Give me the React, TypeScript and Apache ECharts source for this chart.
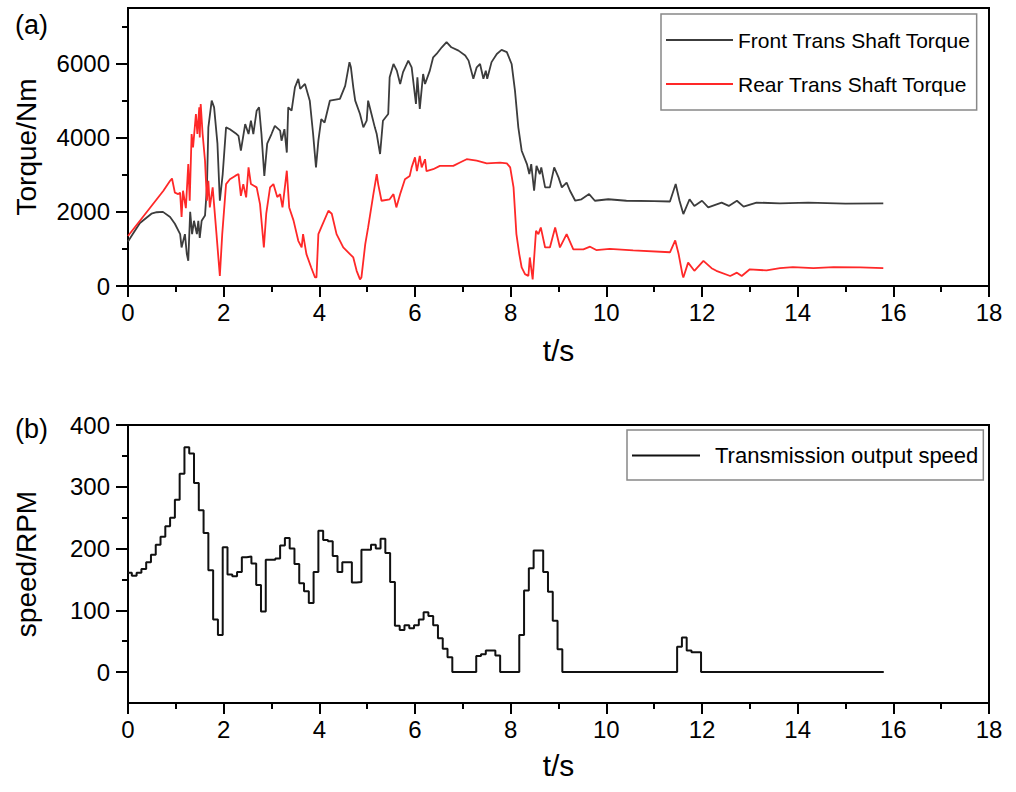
import React, { useEffect, useRef } from "react";
import * as echarts from "echarts";

// ---------- data ----------
const torqueLabelValues = [0, 2000, 4000, 6000];
const torqueMinorTicks = [1000, 3000, 5000, 7000];
const speedLabelValues = [0, 100, 200, 300, 400];
const speedMinorTicks = [50, 150, 250, 350];

// [time s, torque Nm]
const frontTorque: [number, number][] = [
  [0, 1200], [0.1, 1400], [0.25, 1700], [0.49, 1950], [0.6, 1990], [0.73, 2000], [0.88, 1860],
  [0.98, 1680], [1.09, 1400], [1.12, 1040], [1.19, 1400], [1.23, 860], [1.26, 680], [1.3, 2000],
  [1.34, 1400], [1.38, 1760], [1.44, 1400], [1.47, 1760], [1.5, 1300], [1.54, 1760], [1.61, 1900],
  [1.65, 2660], [1.68, 4280], [1.75, 5000], [1.8, 4820], [1.87, 3840], [1.92, 2300], [1.98, 3020],
  [2.05, 4280], [2.13, 4230], [2.27, 4100], [2.31, 4050], [2.36, 3650], [2.45, 4370], [2.52, 4100],
  [2.57, 4460], [2.62, 4100], [2.69, 4730], [2.74, 4820], [2.79, 4100], [2.85, 2970], [2.91, 3840],
  [3.0, 4100], [3.07, 4320], [3.18, 4190], [3.21, 3920], [3.27, 4230], [3.32, 3600], [3.35, 4820],
  [3.42, 4730], [3.49, 5360], [3.56, 5590], [3.6, 5320], [3.7, 5450], [3.8, 5000], [3.87, 4100],
  [3.93, 3200], [3.98, 3920], [4.04, 4500], [4.11, 4410], [4.22, 5000], [4.43, 5050], [4.54, 5400],
  [4.63, 6040], [4.66, 5900], [4.71, 5360], [4.75, 5000], [4.85, 4640], [4.92, 4280], [4.99, 4460],
  [5.02, 5000], [5.09, 4640], [5.16, 4280], [5.2, 4100], [5.27, 3560], [5.33, 4460], [5.44, 4640],
  [5.47, 5630], [5.55, 5990], [5.62, 5810], [5.69, 5450], [5.75, 5770], [5.86, 6080], [5.93, 5900],
  [6.02, 4910], [6.05, 5630], [6.1, 4780], [6.17, 5720], [6.21, 5450], [6.31, 5810], [6.38, 6170],
  [6.45, 6260], [6.56, 6440], [6.66, 6580], [6.76, 6440], [6.91, 6350], [7.05, 6220], [7.12, 6080],
  [7.22, 5590], [7.29, 5900], [7.36, 5990], [7.43, 5590], [7.48, 5810], [7.51, 5590], [7.6, 6040],
  [7.71, 6260], [7.81, 6370], [7.92, 6310], [8.02, 5990], [8.09, 5270], [8.16, 4280], [8.23, 3650],
  [8.34, 3290], [8.39, 3020], [8.43, 3290], [8.49, 2570], [8.54, 3240], [8.61, 3020], [8.64, 3200],
  [8.72, 2660], [8.82, 2660], [8.91, 3200], [9.0, 2930], [9.07, 2660], [9.17, 2790], [9.24, 2570],
  [9.35, 2300], [9.48, 2340], [9.64, 2480], [9.76, 2300], [10.04, 2340], [10.42, 2300], [11.0, 2290],
  [11.33, 2280], [11.45, 2750], [11.53, 2300], [11.61, 1940], [11.74, 2340], [11.84, 2160], [12.0, 2300],
  [12.13, 2120], [12.41, 2250], [12.56, 2160], [12.73, 2300], [12.87, 2140], [13.14, 2250], [13.63, 2230],
  [14.22, 2250], [15.0, 2220], [15.79, 2230],
];

const rearTorque: [number, number][] = [
  [0, 1350], [0.74, 2570], [0.88, 2840], [0.92, 2900], [0.98, 2520], [1.05, 2480], [1.09, 2520],
  [1.12, 1860], [1.15, 2570], [1.21, 2100], [1.26, 3290], [1.29, 2300], [1.33, 4100], [1.36, 3740],
  [1.42, 4640], [1.45, 4100], [1.49, 4820], [1.5, 4010], [1.52, 4910], [1.56, 4100], [1.61, 3380],
  [1.65, 2300], [1.68, 2840], [1.71, 2120], [1.77, 2660], [1.85, 1400], [1.92, 270], [1.97, 1400],
  [2.05, 2750], [2.13, 2880], [2.24, 2970], [2.31, 3020], [2.36, 2430], [2.41, 2750], [2.47, 2390],
  [2.52, 3200], [2.57, 2750], [2.69, 2660], [2.76, 2210], [2.84, 1040], [2.89, 1950], [2.97, 2660],
  [3.04, 2750], [3.12, 2400], [3.18, 2480], [3.23, 2120], [3.32, 3110], [3.37, 2120], [3.46, 1770],
  [3.56, 1220], [3.63, 1040], [3.66, 1400], [3.73, 860], [3.83, 500], [3.91, 230], [3.94, 230],
  [3.98, 1400], [4.04, 1580], [4.19, 2030], [4.26, 1950], [4.36, 1400], [4.5, 1040], [4.64, 860],
  [4.71, 770], [4.78, 410], [4.85, 180], [4.88, 230], [4.96, 1130], [5.02, 1580], [5.13, 2480],
  [5.2, 3020], [5.23, 2750], [5.3, 2300], [5.47, 2340], [5.55, 2480], [5.58, 2300], [5.61, 2120],
  [5.69, 2480], [5.79, 2880], [5.89, 2970], [5.93, 3200], [6.0, 3470], [6.04, 3100], [6.1, 3510],
  [6.14, 3200], [6.21, 3420], [6.24, 3100], [6.38, 3150], [6.52, 3240], [6.8, 3240], [6.94, 3330],
  [7.08, 3420], [7.29, 3380], [7.5, 3310], [7.78, 3330], [7.92, 3310], [7.99, 3200], [8.06, 2660],
  [8.12, 1400], [8.18, 860], [8.23, 500], [8.3, 320], [8.37, 270], [8.4, 770], [8.46, 180],
  [8.53, 1490], [8.58, 1400], [8.63, 1580], [8.72, 1040], [8.82, 1040], [8.93, 1580], [9.03, 1040],
  [9.17, 1400], [9.31, 990], [9.52, 990], [9.66, 1060], [9.79, 970], [10.07, 1000], [10.56, 960],
  [11.33, 910], [11.44, 1230], [11.51, 870], [11.59, 320], [11.61, 230], [11.71, 630], [11.84, 410],
  [12.03, 680], [12.2, 480], [12.3, 410], [12.59, 270], [12.73, 360], [12.83, 270], [13.0, 450],
  [13.35, 420], [13.63, 480], [13.9, 510], [14.33, 480], [14.75, 510], [15.31, 500], [15.79, 480],
];

// [step start time s, speed RPM]
const outputSpeed: [number, number][] = [
  [0, 161], [0.08, 156], [0.18, 161], [0.28, 167], [0.38, 178], [0.48, 190], [0.58, 206], [0.68, 219],
  [0.78, 236], [0.88, 250], [0.98, 279], [1.08, 321], [1.18, 364], [1.28, 354], [1.38, 306], [1.48, 262],
  [1.58, 225], [1.68, 165], [1.78, 85], [1.88, 60], [1.98, 202], [2.08, 158], [2.18, 155], [2.28, 162],
  [2.38, 186], [2.48, 187], [2.58, 176], [2.68, 141], [2.78, 98], [2.88, 182], [2.98, 182], [3.08, 184],
  [3.18, 205], [3.28, 217], [3.38, 200], [3.48, 175], [3.58, 144], [3.68, 131], [3.78, 112], [3.88, 162],
  [3.98, 229], [4.08, 214], [4.18, 212], [4.28, 188], [4.38, 162], [4.48, 178], [4.58, 178], [4.68, 145],
  [4.78, 146], [4.88, 198], [4.98, 198], [5.08, 206], [5.18, 200], [5.28, 216], [5.38, 193], [5.48, 146],
  [5.58, 75], [5.68, 68], [5.78, 76], [5.88, 71], [5.98, 76], [6.08, 85], [6.18, 97], [6.28, 91],
  [6.38, 76], [6.48, 55], [6.58, 38], [6.68, 24], [6.78, 0], [7.28, 26], [7.38, 29], [7.48, 35],
  [7.68, 27], [7.78, 0], [8.18, 60], [8.28, 132], [8.38, 168], [8.48, 197], [8.68, 162], [8.78, 130],
  [8.88, 83], [8.98, 37], [9.08, 0], [11.48, 41], [11.58, 56], [11.68, 35], [11.78, 32], [11.98, 0],
  [15.8, 0],
];

const FONT = "Liberation Sans";

export default function App() {
  const ref = useRef<HTMLDivElement>(null);
  useEffect(() => {
    if (!ref.current) return;
    const chart = echarts.init(ref.current, undefined, { renderer: "svg" });
    const xAxisBase = (gridIndex: number, nameGap: number) => ({
      type: "value",
      gridIndex,
      min: 0,
      max: 18,
      interval: 2,
      name: "t/s",
      nameLocation: "middle",
      nameGap,
      nameTextStyle: { fontSize: 30, fontFamily: FONT, color: "#000" },
      axisLine: { onZero: false, lineStyle: { color: "#000", width: 2 } },
      axisTick: { inside: false, length: 11, lineStyle: { color: "#000", width: 2 } },
      minorTick: { show: true, splitNumber: 2, length: 6, lineStyle: { color: "#000", width: 2 } },
      axisLabel: { fontSize: 24, fontFamily: FONT, color: "#000", margin: 14, formatter: (v: number) => String(v) },
      splitLine: { show: false },
      minorSplitLine: { show: false },
    });
    const yMain = (gridIndex: number, min: number, max: number, name: string, labels: number[]) => ({
      type: "value",
      gridIndex,
      position: "left",
      min,
      max,
      name,
      nameLocation: "middle",
      nameGap: 88,
      nameTextStyle: { fontSize: 28, fontFamily: FONT, color: "#000" },
      axisLine: { show: true, onZero: false, lineStyle: { color: "#000", width: 2 } },
      axisTick: { show: true, inside: false, length: 12, customValues: labels, lineStyle: { color: "#000", width: 2 } },
      axisLabel: {
        fontSize: 24,
        fontFamily: FONT,
        color: "#000",
        margin: 18,
        customValues: labels,
        formatter: (v: number) => String(v),
      },
      splitLine: { show: false },
    });
    const yMinor = (gridIndex: number, min: number, max: number, ticks: number[]) => ({
      type: "value",
      gridIndex,
      position: "left",
      min,
      max,
      axisLine: { show: false, onZero: false },
      axisTick: { show: true, inside: false, length: 6, customValues: ticks, lineStyle: { color: "#000", width: 2 } },
      axisLabel: { show: false },
      splitLine: { show: false },
    });

    chart.setOption({
      animation: false,
      backgroundColor: "#fff",
      title: [
        { text: "(a)", left: 10, top: 6, textStyle: { fontSize: 27, fontWeight: "normal", fontFamily: FONT, color: "#000" } },
        { text: "(b)", left: 10, top: 410, textStyle: { fontSize: 27, fontWeight: "normal", fontFamily: FONT, color: "#000" } },
      ],
      grid: [
        { left: 128, right: 27, top: 8, height: 278, show: true, borderColor: "#000", borderWidth: 2, containLabel: false },
        { left: 128, right: 27, top: 425, height: 278, show: true, borderColor: "#000", borderWidth: 2, containLabel: false },
      ],
      legend: [
        {
          data: ["Front Trans Shaft Torque", "Rear Trans Shaft Torque"],
          orient: "vertical",
          left: 661,
          top: 14,
          padding: [14, 6, 14, 5],
          itemGap: 20,
          icon: "rect",
          itemWidth: 67,
          itemHeight: 2,
          borderColor: "#888",
          borderWidth: 1.5,
          borderRadius: 0,
          textStyle: { fontSize: 21, fontFamily: FONT, color: "#000", lineHeight: 24 },
        },
        {
          data: ["Transmission output speed"],
          orient: "vertical",
          left: 627,
          top: 430,
          padding: [13, 5, 12, 5],
          icon: "rect",
          itemWidth: 68,
          itemHeight: 2,
          borderColor: "#888",
          borderWidth: 1.5,
          borderRadius: 0,
          textStyle: { fontSize: 22, fontFamily: FONT, color: "#000", lineHeight: 25, padding: [0, 0, 0, 10] },
        },
      ],
      xAxis: [xAxisBase(0, 49), xAxisBase(1, 47)],
      yAxis: [
        yMain(0, 0, 7500, "Torque/Nm", torqueLabelValues),
        yMinor(0, 0, 7500, torqueMinorTicks),
        yMain(1, -50, 400, "speed/RPM", speedLabelValues),
        yMinor(1, -50, 400, speedMinorTicks),
      ],
      series: [
        {
          name: "Front Trans Shaft Torque",
          type: "line",
          xAxisIndex: 0,
          yAxisIndex: 0,
          data: frontTorque,
          symbol: "none",
          lineStyle: { color: "#3c3c3c", width: 1.8 },
          itemStyle: { color: "#3c3c3c" },
        },
        {
          name: "Rear Trans Shaft Torque",
          type: "line",
          xAxisIndex: 0,
          yAxisIndex: 0,
          data: rearTorque,
          symbol: "none",
          lineStyle: { color: "#ff2828", width: 1.8 },
          itemStyle: { color: "#ff2828" },
        },
        {
          name: "Transmission output speed",
          type: "line",
          step: "end",
          xAxisIndex: 1,
          yAxisIndex: 2,
          data: outputSpeed,
          symbol: "none",
          lineStyle: { color: "#111", width: 2 },
          itemStyle: { color: "#111" },
        },
      ],
    });
    return () => chart.dispose();
  }, []);
  return (
    <div
      ref={ref}
      style={{ position: "absolute", left: 0, top: 0, width: 1016, height: 792, background: "#fff" }}
    />
  );
}
